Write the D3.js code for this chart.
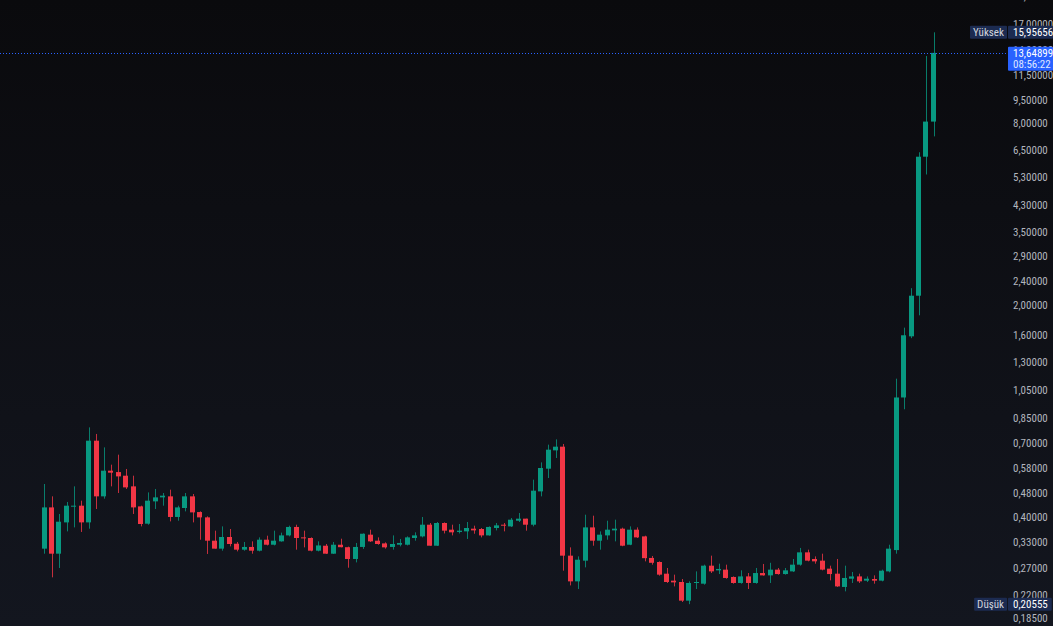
<!DOCTYPE html>
<html>
<head>
<meta charset="utf-8">
<script src="https://cdn.jsdelivr.net/npm/d3@7"></script>
<style>
  html, body { margin: 0; padding: 0; background: #0b0b0e; overflow: hidden; }
  svg { display: block; }
</style>
</head>
<body>
<svg id="chart" width="1053" height="626"></svg>
<script>
// ---- DATA ----
const opens = [
  0.3136, 0.4293, 0.3018, 0.383, 0.4326, 0.4349, 0.383, 0.7133, 0.4669, 0.5677,
  0.5617, 0.5464, 0.5038, 0.4326, 0.3792, 0.4494, 0.4633, 0.4669, 0.3991, 0.4273,
  0.4669, 0.4144, 0.3979, 0.3332, 0.3136, 0.3427, 0.3256, 0.3112, 0.3177, 0.3088,
  0.3357, 0.3231, 0.3315, 0.3469, 0.3699, 0.3417, 0.3401, 0.3088, 0.3207, 0.3018,
  0.3231, 0.3171, 0.2899, 0.3177, 0.3488, 0.3332, 0.3264, 0.3177, 0.3231, 0.3231,
  0.3401, 0.3443, 0.3763, 0.3207, 0.3812, 0.3623, 0.3561, 0.3577, 0.3651, 0.3642,
  0.3469, 0.367, 0.3763, 0.3715, 0.3879, 0.394, 0.3763, 0.4849, 0.5763, 0.6626,
  0.6815, 0.2973, 0.2445, 0.2862, 0.3687, 0.3332, 0.3469, 0.3604, 0.3651, 0.3231,
  0.3623, 0.3443, 0.2922, 0.2833, 0.2592, 0.2458, 0.2433, 0.2111, 0.2415, 0.2402,
  0.2755, 0.2659, 0.2673, 0.2528, 0.2415, 0.2539, 0.2415, 0.2605, 0.2559, 0.2673,
  0.2585, 0.2638, 0.2776, 0.3049, 0.2899, 0.2862, 0.2693, 0.2592, 0.2343, 0.2495,
  0.2539, 0.2458, 0.2489, 0.2458, 0.2638, 0.3102, 0.9909, 1.578, 2.150, 6.192,
  8.089
];
const highs = [
  0.513, 0.4669, 0.4083, 0.4474, 0.5038, 0.4518, 0.7893, 0.7507, 0.6779, 0.5942,
  0.6412, 0.5751, 0.5464, 0.4349, 0.4812, 0.4939, 0.479, 0.4913, 0.4349, 0.479,
  0.4754, 0.4165, 0.4009, 0.3596, 0.3715, 0.3642, 0.330, 0.330, 0.3315, 0.3417,
  0.3461, 0.3596, 0.3542, 0.3735, 0.3763, 0.3596, 0.3417, 0.3315, 0.3249, 0.330,
  0.3383, 0.3185, 0.3275, 0.3521, 0.3623, 0.3417, 0.329, 0.3469, 0.3376, 0.3443,
  0.3551, 0.3991, 0.3812, 0.3841, 0.383, 0.3763, 0.3783, 0.3841, 0.3735, 0.367,
  0.3715, 0.3812, 0.3812, 0.396, 0.4113, 0.394, 0.5301, 0.6047, 0.692, 0.7204,
  0.6956, 0.3167, 0.2957, 0.4061, 0.403, 0.3577, 0.3879, 0.3909, 0.3679, 0.3715,
  0.3687, 0.3461, 0.2966, 0.2847, 0.2707, 0.2573, 0.2489, 0.2445, 0.2638, 0.2776,
  0.2973, 0.2797, 0.2776, 0.2539, 0.2659, 0.2605, 0.2707, 0.2791, 0.2816, 0.2707,
  0.2707, 0.2899, 0.3153, 0.3112, 0.2957, 0.3018, 0.2755, 0.2899, 0.2755, 0.2626,
  0.2592, 0.2539, 0.2559, 0.2673, 0.3231, 1.1433, 1.686, 2.277, 6.405, 13.33,
  15.95656
];
const lows = [
  0.3018, 0.2521, 0.2707, 0.3577, 0.3687, 0.3561, 0.3651, 0.4241, 0.4588, 0.5038,
  0.479, 0.4939, 0.4083, 0.3715, 0.3763, 0.4241, 0.4349, 0.3859, 0.3879, 0.4165,
  0.383, 0.3357, 0.3012, 0.3136, 0.3088, 0.3191, 0.3072, 0.3088, 0.3018, 0.3072,
  0.3214, 0.3214, 0.3307, 0.3443, 0.3112, 0.3167, 0.3072, 0.3072, 0.3012, 0.3012,
  0.3167, 0.2713, 0.2825, 0.313, 0.330, 0.3231, 0.3136, 0.3112, 0.3191, 0.3214,
  0.3332, 0.3417, 0.3207, 0.32, 0.3521, 0.3469, 0.3521, 0.3376, 0.3513, 0.3417,
  0.3461, 0.3604, 0.3577, 0.3699, 0.3841, 0.3596, 0.3715, 0.4669, 0.5369, 0.6252,
  0.2652, 0.2371, 0.2307, 0.272, 0.3207, 0.3112, 0.3357, 0.3315, 0.3194, 0.322,
  0.3401, 0.2847, 0.2776, 0.2553, 0.2415, 0.2353, 0.209, 0.20555, 0.2307, 0.2384,
  0.2605, 0.2585, 0.2495, 0.2402, 0.2402, 0.2307, 0.2402, 0.2553, 0.2415, 0.2573,
  0.2573, 0.2626, 0.2755, 0.2847, 0.2797, 0.2659, 0.2464, 0.2343, 0.2266, 0.2415,
  0.2415, 0.2433, 0.2402, 0.2445, 0.2619, 0.3018, 0.9058, 1.556, 1.852, 5.409,
  7.228
];
const closes = [
  0.4293, 0.3018, 0.385, 0.4349, 0.4349, 0.383, 0.7133, 0.4669, 0.5677, 0.5591,
  0.5435, 0.4999, 0.4293, 0.3783, 0.4518, 0.4633, 0.4693, 0.3991, 0.4293, 0.4669,
  0.4133, 0.3979, 0.3332, 0.3136, 0.3427, 0.3249, 0.3112, 0.3177, 0.3088, 0.3357,
  0.3231, 0.3332, 0.3469, 0.3699, 0.3401, 0.3401, 0.3088, 0.3214, 0.3018, 0.3231,
  0.3171, 0.2899, 0.3177, 0.3513, 0.3315, 0.3249, 0.3167, 0.3249, 0.3275, 0.3417,
  0.3469, 0.3763, 0.3207, 0.3812, 0.3596, 0.3551, 0.3596, 0.367, 0.3604, 0.3469,
  0.3699, 0.3744, 0.3735, 0.3909, 0.394, 0.3763, 0.4875, 0.5794, 0.6661, 0.6815,
  0.2973, 0.2445, 0.2883, 0.3687, 0.3332, 0.3488, 0.3623, 0.3651, 0.3207, 0.3623,
  0.3417, 0.2917, 0.2816, 0.2573, 0.2433, 0.2426, 0.2111, 0.2415, 0.2433, 0.2755,
  0.2638, 0.2687, 0.2509, 0.2415, 0.2539, 0.2415, 0.2605, 0.2559, 0.2673, 0.2585,
  0.2659, 0.2776, 0.3049, 0.2862, 0.2847, 0.2673, 0.2585, 0.2353, 0.2509, 0.2539,
  0.2445, 0.2495, 0.2458, 0.2652, 0.3136, 0.9909, 1.591, 2.150, 6.192, 8.089,
  13.64899
];
const priceTicks = [21, 17, 14, 11.5, 9.5, 8, 6.5, 5.3, 4.3, 3.5, 2.9, 2.4, 2.0, 1.6,
  1.3, 1.05, 0.85, 0.70, 0.58, 0.48, 0.40, 0.33, 0.27, 0.22, 0.185];
const highLabel = "Yüksek";
const lowLabel = "Düşük";
const highValue = 15.95656;
const lowValue = 0.20555;
const lastPrice = 13.64899;
const countdown = "08:56:22";

// ---- CHART ----
const W = 1053, H = 626;
const plotRight = 1008;
const svg = d3.select("#chart");
const font = "'Liberation Sans Narrow', 'Arial Narrow', 'Roboto Condensed', Roboto, sans-serif";

const locale = d3.formatLocale({ decimal: ",", thousands: ".", grouping: [3], currency: ["", ""] });
const fmt = locale.format(".5f");

const defs = svg.append("defs");
const grad = defs.append("linearGradient").attr("id", "bg").attr("x1", 0).attr("y1", 0).attr("x2", 0).attr("y2", 1);
grad.append("stop").attr("offset", "0%").attr("stop-color", "#0a0a0d");
grad.append("stop").attr("offset", "100%").attr("stop-color", "#13161f");
svg.append("rect").attr("width", W).attr("height", H).attr("fill", "url(#bg)");

defs.append("clipPath").attr("id", "plotclip").append("rect")
  .attr("x", 0).attr("y", 0).attr("width", plotRight).attr("height", H);

const idx = d3.range(opens.length);
const x = d3.scaleBand().domain(idx).range([40.6, 40.6 + 7.41 * idx.length]).paddingInner(0.28).paddingOuter(0.14);
const y = d3.scaleLog().domain([0.185, 17]).range([618, 24]);

const UP = "#089981", DOWN = "#f23645";
const plot = svg.append("g").attr("clip-path", "url(#plotclip)");

const candles = plot.selectAll("g.candle").data(idx).join("g").attr("class", "candle");
candles.append("line")
  .attr("x1", i => Math.round(x(i) + x.bandwidth() / 2) + 0.5)
  .attr("x2", i => Math.round(x(i) + x.bandwidth() / 2) + 0.5)
  .attr("y1", i => y(highs[i]))
  .attr("y2", i => y(lows[i]))
  .attr("stroke", i => closes[i] >= opens[i] ? UP : DOWN)
  .attr("stroke-opacity", 0.8)
  .attr("stroke-width", 1);
candles.append("rect")
  .attr("x", i => Math.round(x(i)))
  .attr("width", Math.round(x.bandwidth()))
  .attr("y", i => y(Math.max(opens[i], closes[i])))
  .attr("height", i => Math.max(1, Math.abs(y(opens[i]) - y(closes[i]))))
  .attr("fill", i => closes[i] >= opens[i] ? UP : DOWN);

// last price dotted line
plot.append("line")
  .attr("x1", 0).attr("x2", plotRight)
  .attr("y1", Math.round(y(lastPrice)) + 0.5).attr("y2", Math.round(y(lastPrice)) + 0.5)
  .attr("stroke", "#2962ff").attr("stroke-width", 1).attr("stroke-dasharray", "1,2");

// price axis
const axis = d3.axisRight(y).tickValues(priceTicks).tickFormat(fmt).tickSize(0).tickPadding(5);
const ag = svg.append("g").attr("transform", `translate(${plotRight},0)`).call(axis);
ag.select(".domain").remove();
ag.selectAll("text")
  .attr("fill", "#b2b5be")
  .style("font-family", font)
  .style("font-size", "11px");

function markerLabel(label, value) {
  const yy = y(value);
  const g = svg.append("g");
  const lbRect = g.append("rect").attr("y", yy - 6.5).attr("height", 13).attr("fill", "#1c2b51").attr("rx", 1);
  const vRect = g.append("rect").attr("x", plotRight).attr("y", yy - 6.5).attr("height", 13).attr("fill", "#1c2b51").attr("rx", 1);
  const lt = g.append("text").attr("x", plotRight - 4).attr("y", yy).attr("dy", "0.35em")
    .attr("text-anchor", "end").attr("fill", "#d1d4dc")
    .style("font-family", font).style("font-size", "11px").text(label);
  const vt = g.append("text").attr("x", plotRight + 5).attr("y", yy).attr("dy", "0.35em")
    .attr("fill", "#ffffff")
    .style("font-family", font).style("font-size", "11px").text(fmt(value));
  const lw = lt.node().getComputedTextLength();
  const vw = vt.node().getComputedTextLength();
  lbRect.attr("x", plotRight - 1 - lw - 6).attr("width", lw + 6);
  vRect.attr("width", Math.min(W - plotRight, vw + 9));
  lbRect.lower(); vRect.lower();
}
markerLabel(highLabel, highValue);
markerLabel(lowLabel, lowValue);

// current price label
const yl = y(lastPrice);
const cg = svg.append("g");
cg.append("rect").attr("x", plotRight).attr("y", yl - 6).attr("width", W - plotRight).attr("height", 24)
  .attr("fill", "#2962ff").attr("rx", 1);
cg.append("text").attr("x", plotRight + 5).attr("y", yl).attr("dy", "0.35em").attr("fill", "#ffffff")
  .style("font-family", font).style("font-size", "11px").text(fmt(lastPrice));
cg.append("text").attr("x", plotRight + 5).attr("y", yl + 11).attr("dy", "0.35em").attr("fill", "#dfe6ff")
  .style("font-family", font).style("font-size", "11px").text(countdown);
</script>
</body>
</html>
